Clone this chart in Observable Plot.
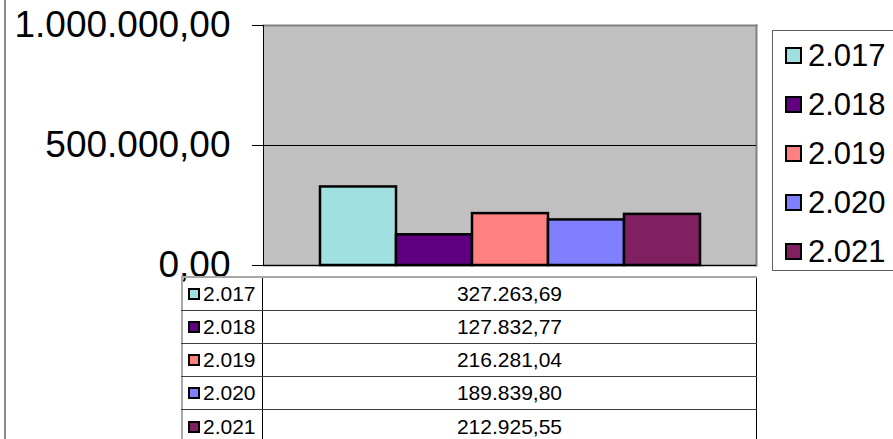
<!DOCTYPE html>
<html>
<head>
<meta charset="utf-8">
<script src="https://cdn.jsdelivr.net/npm/d3@7"></script>
<script src="https://cdn.jsdelivr.net/npm/@observablehq/plot@0.6"></script>
<style>
  html, body { margin: 0; padding: 0; background: #fff; overflow: hidden; }
  #wrap { position: relative; width: 893px; height: 439px; font-family: "Liberation Sans", Arial, sans-serif; overflow: hidden; }
  #wrap svg { position: absolute; left: 0; top: 0; overflow: visible; }
  #outer { position: absolute; left: 4px; top: -2px; width: 2px; height: 445px; background: #8c8c8c; }
  #legend { position: absolute; left: 772px; top: 30px; width: 160px; height: 241px; border: 1px solid #606060; border-right: none; box-sizing: border-box; }
  .lg { height: 49px; display: flex; align-items: center; font-size: 31px; color: #000; }
  .lg .sw { width: 13px; height: 13px; border: 2px solid #000; margin-left: 12px; margin-right: 6px; flex: none; }
  #table { position: absolute; left: 181px; top: 276px; width: 576px; border-top: 2px solid #a8a8a8; box-sizing: border-box; }
  .tr { display: flex; height: 33px; box-sizing: border-box; border-bottom: 1px solid #404040; font-size: 21px; color: #000; }
  .tr:last-child { border-bottom: none; }
  .c1 { width: 82px; box-sizing: border-box; border-left: 2px solid #a8a8a8; border-right: 1px solid #000; display: flex; align-items: center; }
  .c1 .sw { width: 8px; height: 8px; border: 2px solid #000; margin-left: 5px; margin-right: 3px; flex: none; }
  .c2 { width: 494px; box-sizing: border-box; border-right: 1px solid #000; display: flex; align-items: center; justify-content: center; }
</style>
</head>
<body>
<div id="wrap">
  <div id="outer"></div>
</div>
<script>
const years = ["2.017", "2.018", "2.019", "2.020", "2.021"];
const values = [327263.69, 127832.77, 216281.04, 189839.80, 212925.55];
const colors = ["#a0e0e0", "#600080", "#ff8080", "#8080ff", "#802060"];
const yTicks = [0, 500000, 1000000];

const de = d3.formatLocale({decimal: ",", thousands: ".", grouping: [3], currency: ["", " €"]});
const fmt = de.format(",.2f");

const data = years.map((y, i) => ({year: y, value: values[i]}));

const chart = Plot.plot({
  width: 893,
  height: 439,
  marginLeft: 263,
  marginRight: 137,
  marginTop: 25,
  marginBottom: 174,
  style: {fontFamily: "'Liberation Sans', Arial, sans-serif", background: "transparent", color: "#000"},
  x: {domain: years, paddingInner: 0, paddingOuter: 0.74, axis: null},
  y: {domain: [0, 1000000], axis: null},
  color: {domain: years, range: colors},
  marks: [
    Plot.frame({fill: "#c0c0c0", stroke: null}),
    Plot.frame({anchor: "top", stroke: "#808080", strokeWidth: 2}),
    Plot.frame({anchor: "right", stroke: "#808080", strokeWidth: 2}),
    Plot.ruleY([500000], {stroke: "#000", strokeWidth: 1}),
    Plot.barY(data, {x: "year", y: "value", fill: "year", stroke: "#000", strokeWidth: 2.5}),
    Plot.ruleY([0], {stroke: "#000", strokeWidth: 1.5}),
    Plot.frame({anchor: "left", stroke: "#000", strokeWidth: 1}),
    Plot.axisY(yTicks, {anchor: "left", label: null, tickSize: 11, tickPadding: 22, fontSize: 37, tickFormat: fmt, stroke: "#000"})
  ]
});
document.getElementById("wrap").appendChild(chart);

// legend
const legend = document.createElement("div");
legend.id = "legend";
years.forEach((y, i) => {
  const row = document.createElement("div");
  row.className = "lg";
  const sw = document.createElement("div");
  sw.className = "sw";
  sw.style.background = colors[i];
  row.appendChild(sw);
  row.appendChild(document.createTextNode(y));
  legend.appendChild(row);
});
document.getElementById("wrap").appendChild(legend);

// data table
const table = document.createElement("div");
table.id = "table";
years.forEach((y, i) => {
  const tr = document.createElement("div");
  tr.className = "tr";
  const c1 = document.createElement("div");
  c1.className = "c1";
  const sw = document.createElement("div");
  sw.className = "sw";
  sw.style.background = colors[i];
  c1.appendChild(sw);
  c1.appendChild(document.createTextNode(y));
  const c2 = document.createElement("div");
  c2.className = "c2";
  c2.textContent = fmt(values[i]);
  tr.appendChild(c1);
  tr.appendChild(c2);
  table.appendChild(tr);
});
document.getElementById("wrap").appendChild(table);
</script>
</body>
</html>
